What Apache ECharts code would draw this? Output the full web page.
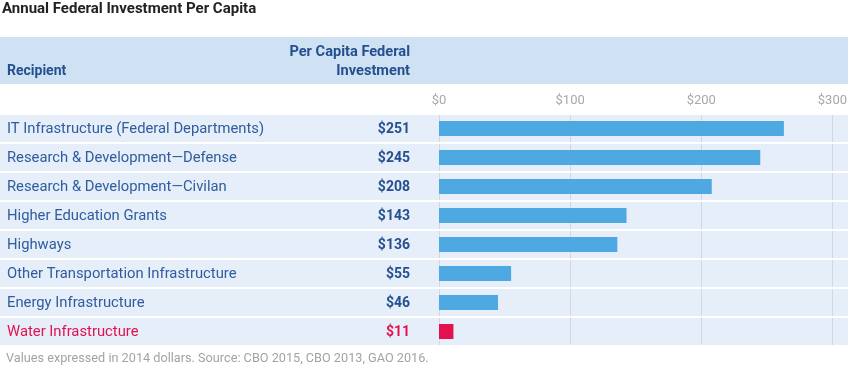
<!DOCTYPE html>
<html>
<head>
<meta charset="utf-8">
<script src="https://cdn.jsdelivr.net/npm/echarts@6/dist/echarts.min.js"></script>
<style>html,body{margin:0;padding:0;background:#fff;}#c{width:850px;height:369px;}</style>
</head>
<body>
<div id="c"></div>
<script>
// Data
var categories = [
  'IT Infrastructure (Federal Departments)',
  'Research & Development\u2014Defense',
  'Research & Development\u2014Civilan',
  'Higher Education Grants',
  'Highways',
  'Other Transportation Infrastructure',
  'Energy Infrastructure',
  'Water Infrastructure'
];
var valueLabels = [251, 245, 208, 143, 136, 55, 46, 11];
// bar lengths as drawn in the picture
var barLengths = [263, 245, 208, 143, 136, 55, 45, 11];
var highlightIndex = 7;
var xTicks = [0, 100, 200, 300];

var FONT = 'Roboto';
var BLUE_TEXT = '#2f5d9e';
var BLUE_BOLD = '#25508f';
var RED = '#e3124f';
var BAR = '#4ea8e1';

var chart = echarts.init(document.getElementById('c'), null, {renderer: 'canvas'});
var option = {
  animation: false,
  backgroundColor: '#ffffff',
  textStyle: {fontFamily: FONT},
  title: [
    {text: 'Annual Federal Investment Per Capita', left: 2, top: 2, padding: 0,
     textStyle: {fontFamily: FONT, fontSize: 15, fontWeight: 'bold', color: '#222222'}},
    {text: 'Values expressed in 2014 dollars. Source: CBO 2015, CBO 2013, GAO 2016.', left: 6, top: 352, padding: 0,
     textStyle: {fontFamily: FONT, fontSize: 12.7, fontWeight: 'normal', color: '#a3a3a3'}}
  ],
  graphic: [
    {type: 'rect', left: 0, top: 37, shape: {width: 848, height: 47}, style: {fill: '#cfe2f4'}, z: -1},
    {type: 'text', left: 7, top: 64, style: {text: 'Recipient', fill: BLUE_BOLD, font: 'bold 14px ' + FONT}},
    {type: 'text', right: 440, top: 45, style: {text: 'Per Capita Federal', fill: BLUE_BOLD, font: 'bold 14.6px ' + FONT, align: 'right'}},
    {type: 'text', right: 440, top: 64, style: {text: 'Investment', fill: BLUE_BOLD, font: 'bold 14.6px ' + FONT, align: 'right'}}
  ],
  grid: [
    {left: 0, right: 2, top: 114, bottom: 23},
    {left: 439, right: 16, top: 114, bottom: 23}
  ],
  xAxis: [
    {gridIndex: 0, type: 'value', min: 0, max: 1, show: false},
    {gridIndex: 1, type: 'value', min: xTicks[0], max: xTicks[xTicks.length - 1], interval: 100,
     position: 'top', z: 1,
     axisLine: {show: false}, axisTick: {show: false},
     axisLabel: {margin: 7, color: '#a8a8a8', fontSize: 13, fontFamily: FONT,
       formatter: function (v) { return '$' + v; }},
     splitLine: {show: true, lineStyle: {color: '#d2d8e0', width: 1}}}
  ],
  yAxis: [
    {gridIndex: 0, type: 'category', inverse: true, data: categories, z: 0,
     axisLine: {show: false}, axisTick: {show: false},
     axisLabel: {inside: true, margin: 7, fontSize: 14.8, fontFamily: FONT,
       formatter: function (v, i) { return i === highlightIndex ? '{r|' + v + '}' : '{b|' + v + '}'; },
       rich: {b: {color: BLUE_TEXT, fontSize: 14.8, fontFamily: FONT, padding: [2, 0, 0, 0]},
              r: {color: RED, fontSize: 14.8, fontFamily: FONT, padding: [2, 0, 0, 0]}}},
     splitArea: {show: true, areaStyle: {color: ['#e5eef9']}},
     splitLine: {show: false}},
    {gridIndex: 1, type: 'category', inverse: true, data: valueLabels, z: 3,
     axisLine: {show: false}, axisTick: {show: false},
     axisLabel: {margin: 29, fontSize: 14, fontFamily: FONT, fontWeight: 'bold',
       formatter: function (v, i) { return (i === highlightIndex ? '{r|$' : '{b|$') + v + '}'; },
       rich: {b: {color: BLUE_BOLD, fontSize: 14, fontWeight: 'bold', fontFamily: FONT, padding: [2, 0, 0, 0]},
              r: {color: RED, fontSize: 14, fontWeight: 'bold', fontFamily: FONT, padding: [2, 0, 0, 0]}}},
     splitLine: {show: false}},
    {gridIndex: 0, type: 'category', inverse: true, data: categories, z: 2,
     axisLine: {show: false}, axisTick: {show: false}, axisLabel: {show: false},
     splitLine: {show: true, lineStyle: {color: '#ffffff', width: 2}}}
  ],
  series: [
    {type: 'bar', xAxisIndex: 1, yAxisIndex: 1, barWidth: 15, z: 4,
     data: barLengths.map(function (v, i) {
       return {value: v, itemStyle: {color: i === highlightIndex ? RED : BAR}};
     })}
  ]
};
chart.setOption(option);
</script>
</body>
</html>
